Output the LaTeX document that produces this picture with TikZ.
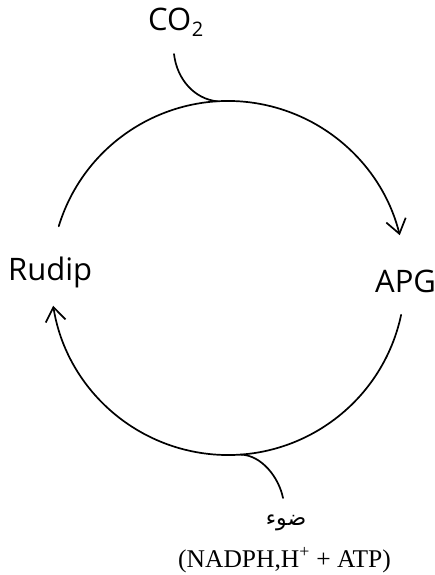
\documentclass[tikz,border=0pt]{standalone}
\usepackage{fontspec}
\setmainfont{Liberation Serif}
\newfontfamily\labelfont{Open Sans}
\newfontfamily\arabicfont[Script=Arabic]{DejaVu Sans}
\TeXXeTstate=1
\usetikzlibrary{arrows.meta,calc}
\begin{document}
\begin{tikzpicture}[x=1pt,y=-1pt,
  cycleline/.style={line width=1.7pt, line cap=round},
  barb/.style={-{Straight Barb[length=14pt,width=20pt,line width=1.7pt]}},
  compound/.style={inner sep=0pt, font=\labelfont\fontsize{31}{36}\selectfont},
  inputtext/.style={inner sep=0pt}]
  \useasboundingbox (0,0) rectangle (435,575);
  \fill[white] (0,0) rectangle (435,575);

  % compounds of the cycle
  \node[compound, anchor=base west] (co2) at (148,31)
    {CO\kern0.5pt\raisebox{-6pt}{\fontsize{20}{24}\selectfont 2}};
  \node[compound, anchor=base west] (rudip) at (8,280) {Rudip};
  \node[compound, anchor=base west] (apg) at (375,292) {APG};

  % light and energy input
  \node[inputtext, font=\arabicfont\fontsize{22}{26}\selectfont] (light) at (286,523) {\beginR ضوء\endR};
  \node[inputtext, anchor=base west, font=\fontsize{25.5}{30}\selectfont] (energy) at (178,567)
    {(NADPH,H\textsuperscript{+} + ATP)};

  % points on the circle (centre (228,278), radius 177)
  \coordinate (c) at (228,278);
  \coordinate (topstart) at ($(c)+(197:177)$);
  \coordinate (botstart) at ($(c)+(12:177)$);
  \coordinate (co2join) at ($(c)+(266.5:177)$);
  \coordinate (lightjoin) at ($(c)+(86:177)$);
  \coordinate (co2tail) at (174,54);
  \coordinate (lighttail) at (283,498);

  % upper arc: Rudip -> APG
  \draw[cycleline, barb] (topstart) arc[start angle=197, end angle=346, radius=177];
  % lower arc: APG -> Rudip
  \draw[cycleline, barb] (botstart) arc[start angle=12, end angle=171, radius=177];

  % CO2 entering the cycle
  \draw[cycleline] (co2tail) .. controls (177,80) and (195,99) .. (co2join);
  % light / NADPH + ATP entering the cycle
  \draw[cycleline] (lighttail) .. controls (279,478) and (262,455) .. (lightjoin);
\end{tikzpicture}
\end{document}
